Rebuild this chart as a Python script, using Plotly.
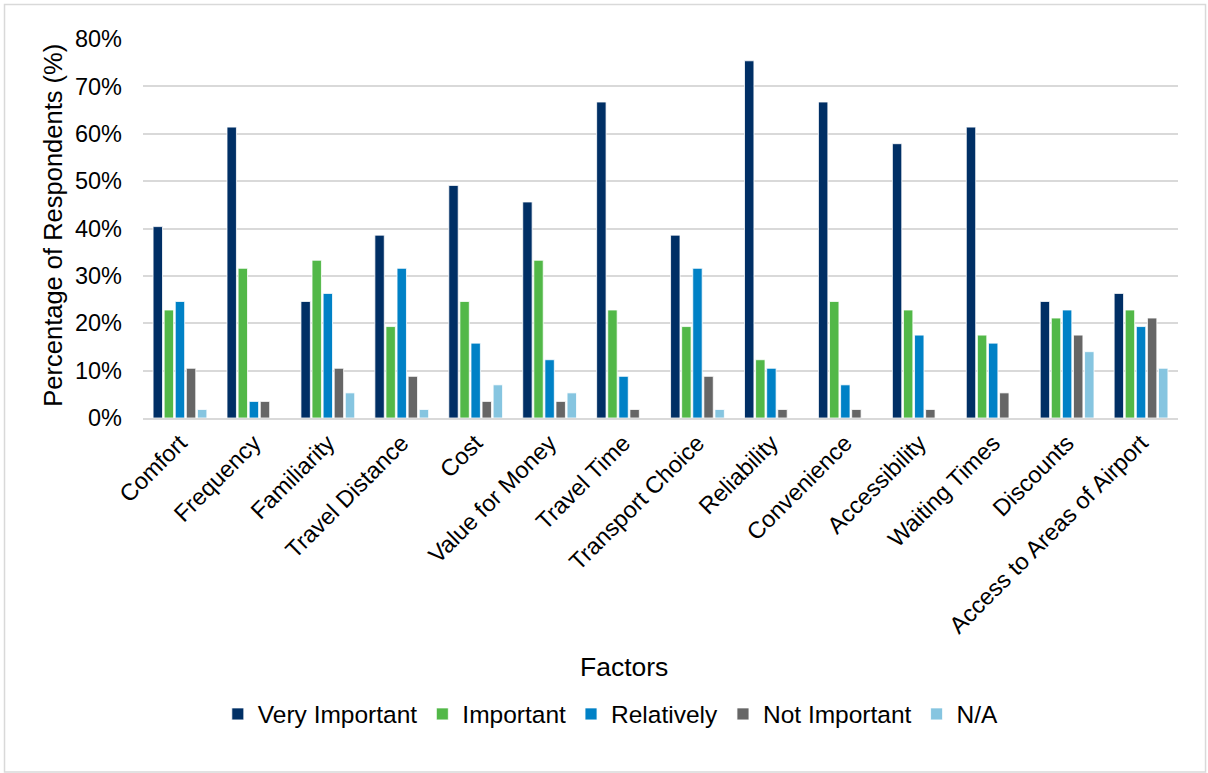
import plotly.graph_objects as go

factors = [
    "Comfort", "Frequency", "Familiarity", "Travel Distance", "Cost",
    "Value for Money", "Travel Time", "Transport Choice", "Reliability",
    "Convenience", "Accessibility", "Waiting Times", "Discounts",
    "Access to Areas of Airport",
]

very_important = [40.4, 61.4, 24.6, 38.6, 49.1, 45.6, 66.7, 38.6, 75.4, 66.7, 57.9, 61.4, 24.6, 26.3]
important      = [22.8, 31.6, 33.3, 19.3, 24.6, 33.3, 22.8, 19.3, 12.3, 24.6, 22.8, 17.5, 21.1, 22.8]
relatively     = [24.6, 3.5, 26.3, 31.6, 15.8, 12.3, 8.8, 31.6, 10.5, 7.0, 17.5, 15.8, 22.8, 19.3]
not_important  = [10.5, 3.5, 10.5, 8.8, 3.5, 3.5, 1.8, 8.8, 1.8, 1.8, 1.8, 5.3, 17.5, 21.1]
not_applicable = [1.8, 0.0, 5.3, 1.8, 7.0, 5.3, 0.0, 1.8, 0.0, 0.0, 0.0, 0.0, 14.0, 10.5]

y_ticks = [0, 10, 20, 30, 40, 50, 60, 70, 80]
y_tick_text = [f"{v}%" for v in y_ticks]

series = [
    ("Very Important", very_important, "#002F65"),
    ("Important", important, "#52B848"),
    ("Relatively", relatively, "#0081C6"),
    ("Not Important", not_important, "#666666"),
    ("N/A", not_applicable, "#86C5E0"),
]

FONT = "Liberation Sans, Arial, sans-serif"

fig = go.Figure()
for name, vals, color in series:
    fig.add_trace(go.Bar(
        x=factors, y=vals, name=name,
        marker=dict(color=color, line=dict(color="white", width=0.8)),
    ))

fig.update_layout(
    width=1208, height=773,
    margin=dict(l=143, r=30, t=39, b=355),
    paper_bgcolor="white", plot_bgcolor="white",
    barmode="group", bargap=0.25, bargroupgap=0.15,
    font=dict(family=FONT, color="black", size=23),
    showlegend=True,
    legend=dict(
        orientation="h", x=0.452, xanchor="center", y=-0.781, yanchor="middle",
        font=dict(size=24.5, family=FONT), traceorder="normal",
        itemwidth=30,
    ),
    xaxis=dict(
        tickangle=-45, tickfont=dict(size=23.5), showgrid=False,
        showline=True, linecolor="#D9D9D9", linewidth=2,
        ticks="", automargin=False,
    ),
    yaxis=dict(
        range=[0, 80], tickvals=y_ticks, ticktext=y_tick_text,
        tickfont=dict(size=23.5), gridcolor="#D9D9D9", gridwidth=2,
        zeroline=False, showline=False, ticks="", ticklabelstandoff=20,
        automargin=False,
    ),
    annotations=[
        dict(text="Percentage of Respondents (%)", xref="paper", yref="paper",
             x=-0.087, y=0.51, textangle=-90, showarrow=False,
             font=dict(size=25.5, family=FONT), xanchor="center", yanchor="middle"),
        dict(text="Factors", xref="paper", yref="paper",
             x=0.465, y=-0.657, showarrow=False,
             font=dict(size=26.5, family=FONT), xanchor="center", yanchor="middle"),
    ],
    shapes=[
        dict(type="rect", xref="paper", yref="paper",
             x0=-0.1338, x1=1.0266, y0=-0.934, y1=1.091,
             line=dict(color="#D9D9D9", width=1.5), fillcolor="rgba(0,0,0,0)",
             layer="below"),
    ],
)

fig.write_html("out.html")
